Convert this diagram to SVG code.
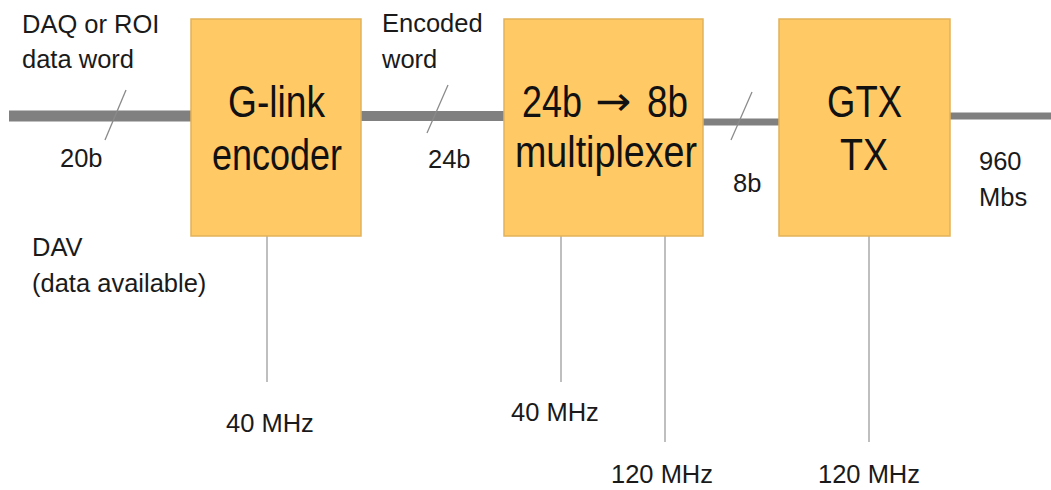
<svg xmlns="http://www.w3.org/2000/svg" width="1051" height="490" viewBox="0 0 1051 490">
<style>
.box{fill:#ffc966;stroke:#e3b25a;stroke-width:1.5}
.bt{font-family:"Liberation Sans",Arial,sans-serif;font-size:45px;fill:#111;text-anchor:middle}
.ar{font-family:"DejaVu Sans",sans-serif;font-size:40px;fill:#111;text-anchor:middle}
.lb{font-family:"Liberation Sans",Arial,sans-serif;font-size:25.5px;fill:#1a1a1a}
.bus{stroke:#808080;fill:none}
.tick{stroke:#8a8a8a;stroke-width:1.3;fill:none}
.clk{stroke:#aaaaaa;stroke-width:1.5;fill:none}
</style>
<rect width="1051" height="490" fill="#ffffff"/>
<g id="connectors">
<line class="bus" x1="9" y1="116" x2="191" y2="116" stroke-width="11"/>
<line class="bus" x1="361" y1="116" x2="504" y2="116" stroke-width="10"/>
<line class="bus" x1="703" y1="122" x2="779" y2="122" stroke-width="7"/>
<line class="bus" x1="950" y1="116" x2="1051" y2="116" stroke-width="7"/>
<line class="tick" x1="126" y1="90" x2="105" y2="140"/>
<line class="tick" x1="448" y1="85" x2="427" y2="133"/>
<line class="tick" x1="752" y1="92" x2="731" y2="140"/>
<line class="clk" x1="267" y1="236" x2="267" y2="382"/>
<line class="clk" x1="561" y1="236" x2="561" y2="382"/>
<line class="clk" x1="665" y1="236" x2="665" y2="442"/>
<line class="clk" x1="869" y1="236" x2="869" y2="442"/>
</g>
<g id="glink">
<rect class="box" x="191" y="19" width="170" height="217"/>
<text class="bt" x="276.5" y="117" textLength="97" lengthAdjust="spacingAndGlyphs">G-link</text>
<text class="bt" x="277" y="170" textLength="130" lengthAdjust="spacingAndGlyphs">encoder</text>
</g>
<g id="mux">
<rect class="box" x="504" y="19" width="199" height="217"/>
<text class="bt" x="552" y="117" textLength="60" lengthAdjust="spacingAndGlyphs">24b</text>
<text class="ar" x="613.5" y="115" textLength="36" lengthAdjust="spacingAndGlyphs">→</text>
<text class="bt" x="667.5" y="117" textLength="41" lengthAdjust="spacingAndGlyphs">8b</text>
<text class="bt" x="606" y="167" textLength="182" lengthAdjust="spacingAndGlyphs">multiplexer</text>
</g>
<g id="gtx">
<rect class="box" x="779" y="19" width="171" height="217"/>
<text class="bt" x="864.5" y="117" textLength="75" lengthAdjust="spacingAndGlyphs">GTX</text>
<text class="bt" x="864" y="170" textLength="48" lengthAdjust="spacingAndGlyphs">TX</text>
</g>
<g id="labels">
<text class="lb" x="22" y="33">DAQ or ROI</text>
<text class="lb" x="22" y="68">data word</text>
<text class="lb" x="60" y="167">20b</text>
<text class="lb" x="382" y="32">Encoded</text>
<text class="lb" x="382" y="68">word</text>
<text class="lb" x="428" y="168">24b</text>
<text class="lb" x="733" y="192">8b</text>
<text class="lb" x="979" y="170">960</text>
<text class="lb" x="979" y="206">Mbs</text>
<text class="lb" x="32" y="256">DAV</text>
<text class="lb" x="32" y="292">(data available)</text>
<text class="lb" x="226" y="432">40 MHz</text>
<text class="lb" x="511" y="421">40 MHz</text>
<text class="lb" x="611" y="483">120 MHz</text>
<text class="lb" x="818" y="483">120 MHz</text>
</g>
</svg>
